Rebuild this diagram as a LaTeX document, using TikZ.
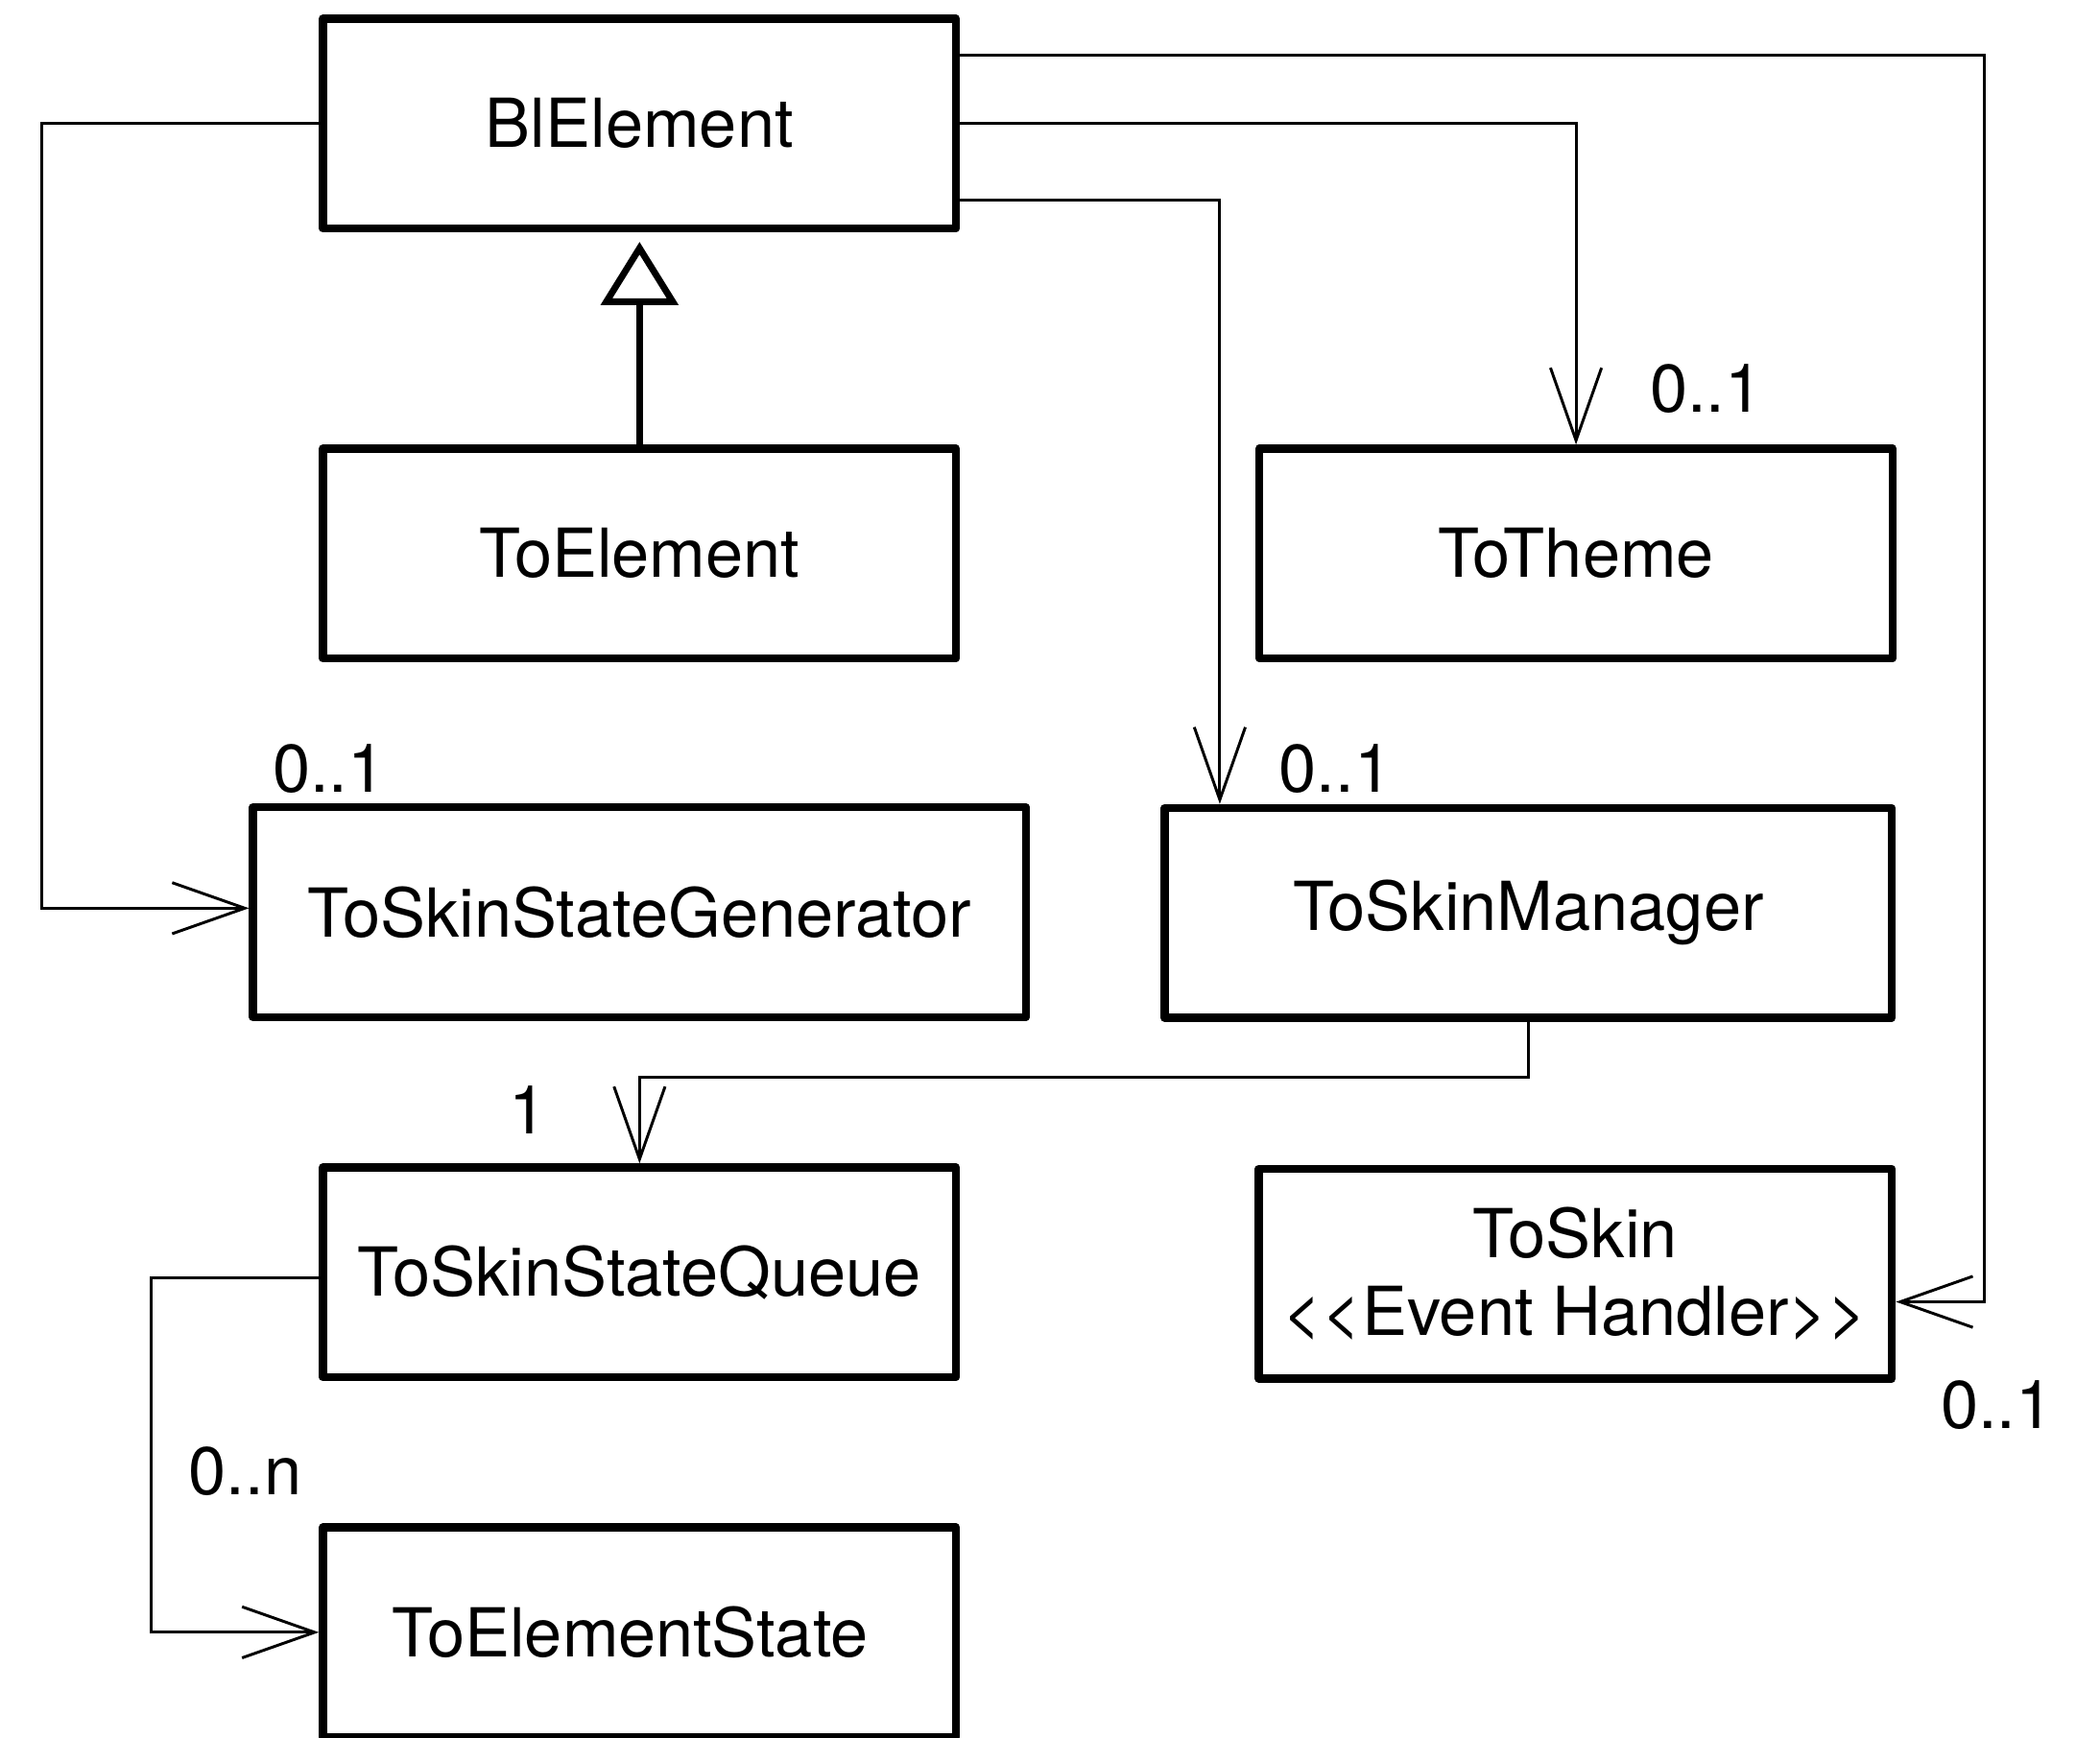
\documentclass[tikz,border=0pt]{standalone}
\usepackage{fontspec}
\setmainfont{TeX Gyre Heros}
\usetikzlibrary{arrows.meta}

\begin{document}
\begin{tikzpicture}[
    x=0.01cm, y=-0.01cm,
    classbox/.style={draw, line width=1.7pt, line join=round, inner sep=0pt,
      minimum height=1.56cm, align=center, font=\fontsize{14.3}{16.5}\selectfont},
    assoc/.style={line width=0.6pt,
      -{Straight Barb[length=5.4mm, width=3.8mm, line width=0.6pt]}},
    inherit/.style={line width=1.4pt, shorten >=0.7mm,
      -{Triangle[open, length=4.7mm, width=5.7mm, line width=1.4pt]}},
    mult/.style={inner sep=0pt, font=\fontsize{14.3}{16.5}\selectfont},
  ]
  \useasboundingbox (0,0) rectangle (1563,1293);

  %%%%%%%%%% Classes %%%%%%%%%%
  \foreach \name/\pos/\boxwidth/\boxtext in {
    ble/{(476,92)}/4.71cm/{BlElement},
    toel/{(476,412)}/4.71cm/{ToElement},
    theme/{(1173,412)}/4.71cm/{ToTheme},
    gen/{(476,679)}/5.75cm/{ToSkinStateGenerator},
    mgr/{(1137.5,679.5)}/5.41cm/{ToSkinManager},
    queue/{(476,947)}/4.71cm/{ToSkinStateQueue},
    skin/{(1172.5,948)}/4.71cm/{ToSkin\\<\kern0pt<Event Handler>\kern0pt>},
    elstate/{(476,1215)}/4.71cm/{ToElementState}
  } {
    \node[classbox, minimum width=\boxwidth] (\name) at \pos {\boxtext};
  }

  %%%%%%%%%% Inheritance %%%%%%%%%%
  \draw[inherit] (toel.north) -- (ble.south);

  %%%%%%%%%% Associations %%%%%%%%%%
  \draw[assoc] (ble.west) -- ++(-206,0) |- ([yshift=0.3mm]gen.west);
  \draw[assoc] ([yshift=5.1mm]ble.east) -- ++(762,0) |- ([yshift=-2.1mm]skin.east);
  \draw[assoc] (ble.east) -| (theme.north);
  \draw[assoc] ([yshift=-5.7mm]ble.east) -| ([xshift=4.4mm]mgr.north west);
  \draw[assoc] (mgr.south) -- ++(0,41) -| (queue.north);
  \draw[assoc] ([yshift=-0.4mm]queue.west) -- ++(-125,0) |- (elstate.west);

  %%%%%%%%%% Multiplicities %%%%%%%%%%
  \foreach \name/\pos/\multtext in {
    m-gen/{(245,572)}/{0..1},
    m-mgr/{(994,572)}/{0..1},
    m-theme/{(1270,289)}/{0..1},
    m-queue/{(393,826.5)}/{1},
    m-elstate/{(182.5,1095)}/{0..n},
    m-skin/{(1486.5,1046)}/{0..1}
  } {
    \node[mult] (\name) at \pos {\multtext};
  }

\end{tikzpicture}
\end{document}
